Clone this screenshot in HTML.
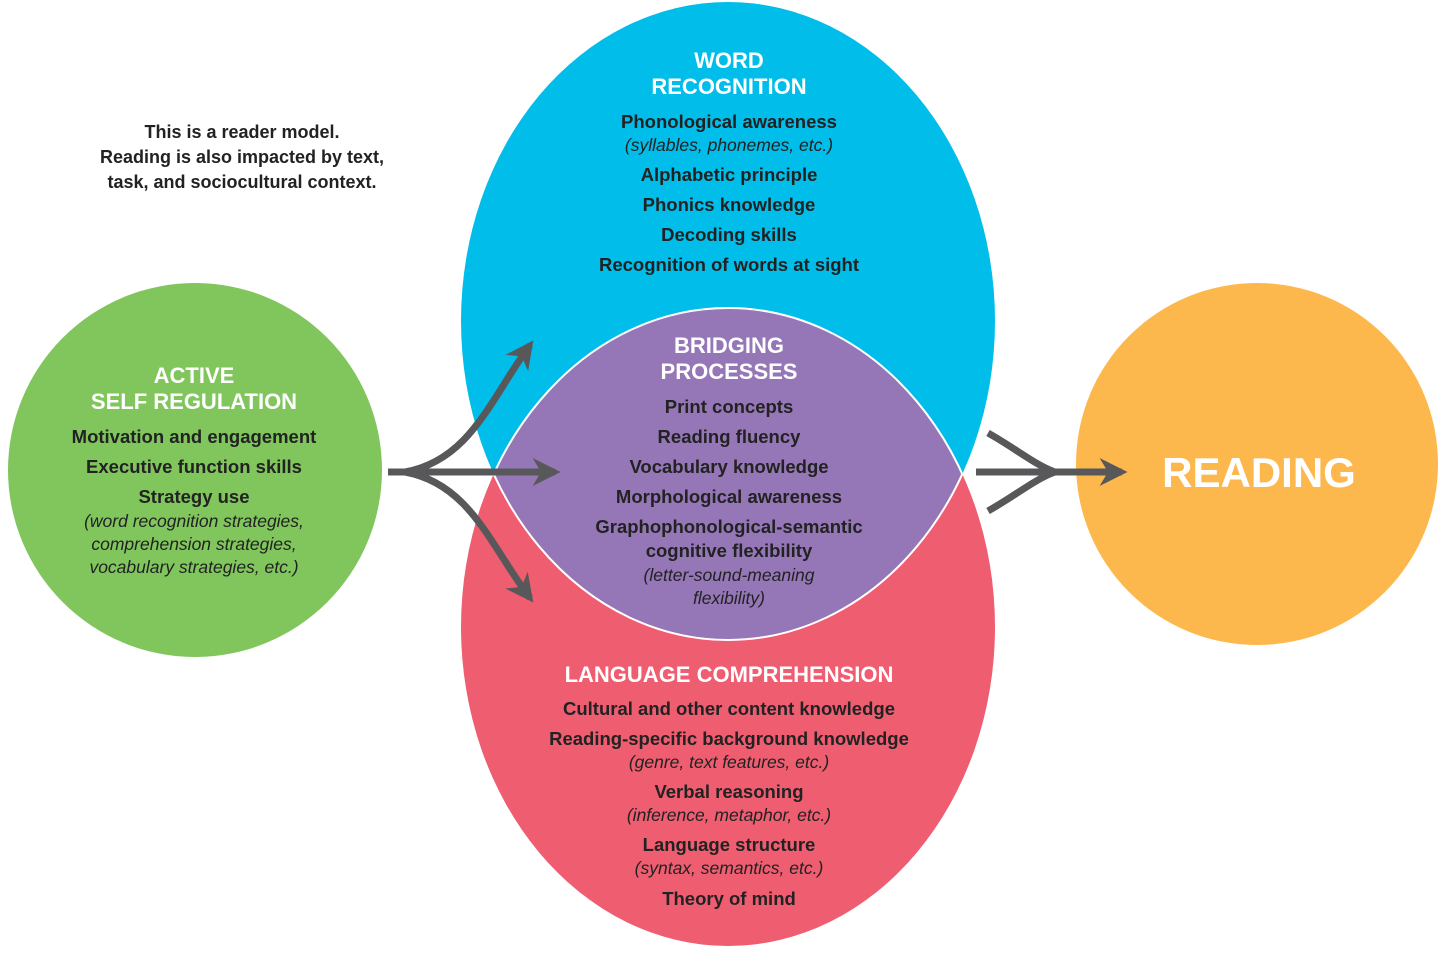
<!DOCTYPE html>
<html><head><meta charset="utf-8"><style>
html,body{margin:0;padding:0;background:#fff;}
svg text{font-family:"Liberation Sans",sans-serif;}
</style></head><body>
<svg width="1451" height="955" viewBox="0 0 1451 955" xmlns="http://www.w3.org/2000/svg">
<defs>
<clipPath id="cb"><ellipse cx="728" cy="321" rx="267" ry="319"/></clipPath>
<marker id="ah" viewBox="0 0 10 10" refX="8" refY="5" markerWidth="4" markerHeight="4" orient="auto"><path d="M0,0 L10,5 L0,10 L3,5 Z" fill="#58585a"/></marker>
</defs>
<ellipse cx="728" cy="321" rx="267" ry="319" fill="#00bde9"/>
<ellipse cx="728" cy="627" rx="267" ry="319" fill="#ef5d71"/>
<ellipse cx="728" cy="627" rx="267" ry="319" fill="#9577b7" clip-path="url(#cb)"/>
<ellipse cx="728" cy="627" rx="267" ry="319" fill="none" stroke="#fff" stroke-width="2" clip-path="url(#cb)"/>
<g clip-path="url(#cr)"></g>
<clipPath id="cr"><ellipse cx="728" cy="627" rx="267" ry="319"/></clipPath>
<ellipse cx="728" cy="321" rx="267" ry="319" fill="none" stroke="#fff" stroke-width="2" clip-path="url(#cr)"/>
<circle cx="195" cy="470" r="187" fill="#80c65d"/>
<circle cx="1257" cy="464" r="181" fill="#fdb84d"/>
<g stroke="#58585a" stroke-width="7" fill="none" stroke-linecap="butt">
<path d="M388,472 L555,472" marker-end="url(#ah)"/>
<path d="M405,472 C470,460 490,400 530,345" marker-end="url(#ah)"/>
<path d="M405,472 C470,484 490,545 530,598" marker-end="url(#ah)"/>
<path d="M976,472 L1122,472" marker-end="url(#ah)"/>
<path d="M988,433 C1015,448 1035,465 1055,472"/>
<path d="M988,511 C1015,496 1035,479 1055,472"/>
</g>
<g text-anchor="middle" font-weight="bold" fill="#222" font-size="18">
<text x="242" y="138">This is a reader model.</text>
<text x="242" y="163">Reading is also impacted by text,</text>
<text x="242" y="188">task, and sociocultural context.</text>
</g>
<g text-anchor="middle" font-weight="bold" fill="#fff" font-size="22">
<text x="729" y="68">WORD</text><text x="729" y="94">RECOGNITION</text>
<text x="194" y="383">ACTIVE</text><text x="194" y="409">SELF REGULATION</text>
<text x="729" y="353">BRIDGING</text><text x="729" y="379">PROCESSES</text>
<text x="729" y="682">LANGUAGE COMPREHENSION</text>
<text x="1259" y="487" font-size="42">READING</text>
</g>
<g text-anchor="middle" fill="#222" font-size="18.5">
<g font-weight="bold">
<text x="729" y="128">Phonological awareness</text>
<text x="729" y="181">Alphabetic principle</text>
<text x="729" y="211">Phonics knowledge</text>
<text x="729" y="241">Decoding skills</text>
<text x="729" y="271">Recognition of words at sight</text>
<text x="194" y="443">Motivation and engagement</text>
<text x="194" y="473">Executive function skills</text>
<text x="194" y="503">Strategy use</text>
<text x="729" y="413">Print concepts</text>
<text x="729" y="443">Reading fluency</text>
<text x="729" y="473">Vocabulary knowledge</text>
<text x="729" y="503">Morphological awareness</text>
<text x="729" y="533">Graphophonological-semantic</text>
<text x="729" y="557">cognitive flexibility</text>
<text x="729" y="715">Cultural and other content knowledge</text>
<text x="729" y="745">Reading-specific background knowledge</text>
<text x="729" y="798">Verbal reasoning</text>
<text x="729" y="851">Language structure</text>
<text x="729" y="905">Theory of mind</text>
</g>
<g font-style="italic" font-size="17.5">
<text x="729" y="151">(syllables, phonemes, etc.)</text>
<text x="194" y="527">(word recognition strategies,</text>
<text x="194" y="550">comprehension strategies,</text>
<text x="194" y="573">vocabulary strategies, etc.)</text>
<text x="729" y="581">(letter-sound-meaning</text>
<text x="729" y="604">flexibility)</text>
<text x="729" y="768">(genre, text features, etc.)</text>
<text x="729" y="821">(inference, metaphor, etc.)</text>
<text x="729" y="874">(syntax, semantics, etc.)</text>
</g>
</g>
</svg>
</body></html>
